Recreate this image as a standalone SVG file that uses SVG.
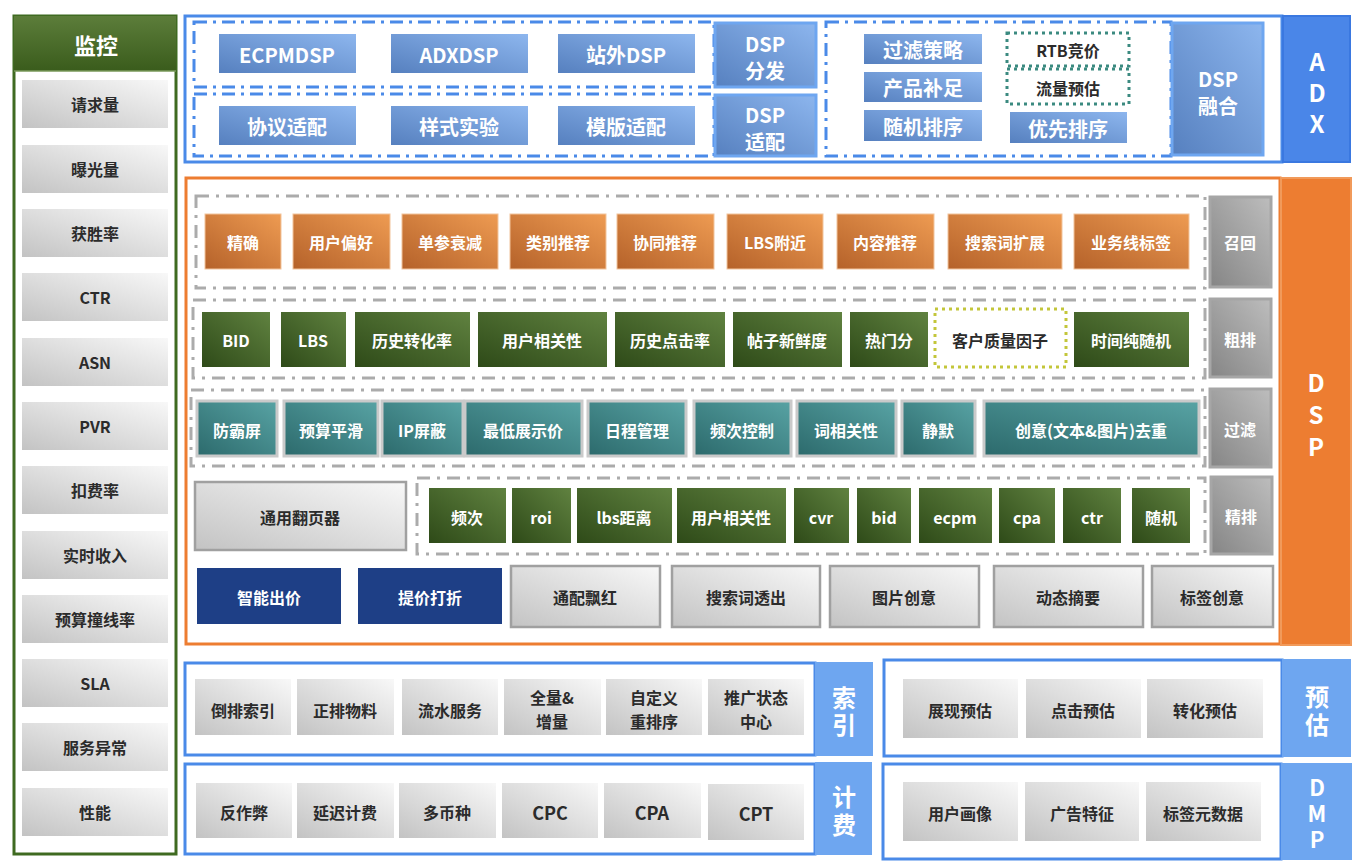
<svg xmlns="http://www.w3.org/2000/svg" width="1359" height="867" viewBox="0 0 1359 867">
<defs>
<linearGradient id="gAdx" x1="0" y1="1" x2="1" y2="0"><stop offset="0" stop-color="#5680bf"/><stop offset="1" stop-color="#8db6ee"/></linearGradient>
<linearGradient id="gOr" x1="0" y1="1" x2="1" y2="0"><stop offset="0" stop-color="#b5622a"/><stop offset="1" stop-color="#ee9b52"/></linearGradient>
<linearGradient id="gGr" x1="0" y1="1" x2="1" y2="0"><stop offset="0" stop-color="#2e4a18"/><stop offset="1" stop-color="#608240"/></linearGradient>
<linearGradient id="gTe" x1="0" y1="1" x2="1" y2="0"><stop offset="0" stop-color="#2c6a6c"/><stop offset="1" stop-color="#58a3a4"/></linearGradient>
<linearGradient id="gGy" x1="0" y1="1" x2="1" y2="0"><stop offset="0" stop-color="#858585"/><stop offset="1" stop-color="#bdbdbd"/></linearGradient>
<linearGradient id="gLt" x1="0" y1="1" x2="1" y2="0"><stop offset="0" stop-color="#c3c3c3"/><stop offset="1" stop-color="#f8f8f8"/></linearGradient>
<linearGradient id="gHd" x1="0" y1="0" x2="0" y2="1"><stop offset="0" stop-color="#5c7d3a"/><stop offset="1" stop-color="#3a5c1c"/></linearGradient>
</defs>
<style>
text{font-family:"Noto Sans CJK SC","Noto Sans",sans-serif;font-weight:bold;text-anchor:middle;dominant-baseline:central}
.w{fill:#fff}
.d{fill:#2b2b2b}
.f16{font-size:16px}
.f20{font-size:20px}
.f24{font-size:24px}
.vt{writing-mode:vertical-rl;text-orientation:upright}
.adx{fill:url(#gAdx)}
.adxb{fill:url(#gAdx);stroke:#6ea6f0;stroke-width:3}
.or{fill:url(#gOr);stroke:#f2c49c;stroke-width:1}
.gr{fill:url(#gGr)}
.te{fill:url(#gTe);stroke:#cacaca;stroke-width:3}
.gy{fill:url(#gGy);stroke:#a6a6a6;stroke-width:3}
.lt{fill:url(#gLt)}
.ltb{fill:url(#gLt);stroke:#a0a0a0;stroke-width:2.5}
.nv{fill:#1e3f86}
.dashB{fill:none;stroke:#4a8ae8;stroke-width:3;stroke-dasharray:13 6 3 6}
.dashG{fill:none;stroke:#ababab;stroke-width:3;stroke-dasharray:13 7 3 7}
.dot{fill:#fff;stroke:#3b8a80;stroke-width:3;stroke-dasharray:3 4}
.doty{fill:#fff;stroke:#c3c63a;stroke-width:3;stroke-dasharray:3 4}
.frameB{fill:#fff;stroke:#4a8ae8;stroke-width:3}
.lblB{fill:#6ea6f0}
</style>

<!-- Monitoring panel -->
<g id="monitor">
<rect x="14" y="16" width="162" height="838" fill="#fff" stroke="#3f6a21" stroke-width="3"/>
<rect x="14" y="16" width="162" height="55" fill="url(#gHd)"/>
<line x1="14" y1="71" x2="176" y2="71" stroke="#7a9a5a" stroke-width="1.5"/>
<text class="w" x="96" y="44" style="font-size:22px">监控</text>
</g>
<g id="m1"><rect class="lt" x="22" y="80" width="146" height="48"/><text class="d f16" x="95" y="104">请求量</text></g>
<g id="m2"><rect class="lt" x="22" y="145" width="146" height="48"/><text class="d f16" x="95" y="169">曝光量</text></g>
<g id="m3"><rect class="lt" x="22" y="209" width="146" height="48"/><text class="d f16" x="95" y="233">获胜率</text></g>
<g id="m4"><rect class="lt" x="22" y="273" width="146" height="48"/><text class="d f16" x="95" y="297">CTR</text></g>
<g id="m5"><rect class="lt" x="22" y="338" width="146" height="48"/><text class="d f16" x="95" y="362">ASN</text></g>
<g id="m6"><rect class="lt" x="22" y="402" width="146" height="48"/><text class="d f16" x="95" y="426">PVR</text></g>
<g id="m7"><rect class="lt" x="22" y="466" width="146" height="48"/><text class="d f16" x="95" y="490">扣费率</text></g>
<g id="m8"><rect class="lt" x="22" y="531" width="146" height="48"/><text class="d f16" x="95" y="555">实时收入</text></g>
<g id="m9"><rect class="lt" x="22" y="595" width="146" height="48"/><text class="d f16" x="95" y="619">预算撞线率</text></g>
<g id="m10"><rect class="lt" x="22" y="659" width="146" height="48"/><text class="d f16" x="95" y="683">SLA</text></g>
<g id="m11"><rect class="lt" x="22" y="723" width="146" height="48"/><text class="d f16" x="95" y="747">服务异常</text></g>
<g id="m12"><rect class="lt" x="22" y="788" width="146" height="48"/><text class="d f16" x="95" y="812">性能</text></g>

<!-- ADX -->
<g id="adx">
<rect class="frameB" x="185" y="16" width="1097" height="146"/>
<rect x="1283" y="16" width="67" height="146" fill="#4a86e8" stroke="#3a78e0" stroke-width="2"/>
<text class="w f24 vt" x="1317" y="96.5" style="letter-spacing:7px">ADX</text>
<rect class="dashB" x="194" y="22" width="520" height="65"/>
<rect class="dashB" x="194" y="94" width="520" height="62"/>
<rect class="dashB" x="826" y="22" width="345" height="134"/>
</g>
<g id="ecpmdsp"><rect class="adx" x="219" y="34" width="137" height="39"/><text class="w f20" x="287" y="54">ECPMDSP</text></g>
<g id="adxdsp"><rect class="adx" x="391" y="34" width="137" height="39"/><text class="w f20" x="459" y="54">ADXDSP</text></g>
<g id="zwdsp"><rect class="adx" x="558" y="34" width="137" height="39"/><text class="w f20" x="626" y="54">站外DSP</text></g>
<g id="xyspd"><rect class="adx" x="219" y="106" width="137" height="39"/><text class="w f20" x="287" y="126">协议适配</text></g>
<g id="yssy"><rect class="adx" x="391" y="106" width="137" height="39"/><text class="w f20" x="459" y="126">样式实验</text></g>
<g id="mbsp"><rect class="adx" x="558" y="106" width="137" height="39"/><text class="w f20" x="626" y="126">模版适配</text></g>
<g id="dspff"><rect class="adxb" x="715" y="23" width="101" height="64"/><text class="w f20"><tspan x="765" y="43">DSP</tspan><tspan x="765" y="70">分发</tspan></text></g>
<g id="dspsp"><rect class="adxb" x="715" y="95" width="101" height="61"/><text class="w f20"><tspan x="765" y="114">DSP</tspan><tspan x="765" y="141">适配</tspan></text></g>
<g id="glcl"><rect class="adx" x="864" y="34" width="118" height="30"/><text class="w f20" x="923" y="49">过滤策略</text></g>
<g id="cpbz"><rect class="adx" x="864" y="72" width="118" height="30"/><text class="w f20" x="923" y="87">产品补足</text></g>
<g id="sjpx"><rect class="adx" x="864" y="110" width="118" height="31"/><text class="w f20" x="923" y="126">随机排序</text></g>
<g id="rtb"><rect class="dot" x="1007" y="33" width="122" height="33"/><text class="d f16" x="1068" y="50">RTB竞价</text></g>
<g id="llyg"><rect class="dot" x="1007" y="69" width="122" height="35"/><text class="d f16" x="1068" y="88">流量预估</text></g>
<g id="yxpx"><rect class="adx" x="1010" y="112" width="117" height="31"/><text class="w f20" x="1068" y="128">优先排序</text></g>
<g id="dsprh"><rect class="adxb" x="1172" y="23" width="91" height="132"/><text class="w f20"><tspan x="1218" y="78">DSP</tspan><tspan x="1218" y="105">融合</tspan></text></g>

<!-- DSP -->
<g id="dsp">
<rect x="186" y="178" width="1094" height="466" fill="#fff" stroke="#ed7d31" stroke-width="3"/>
<rect x="1281" y="178" width="70" height="467" fill="#ed7d31" stroke="#f19a5a" stroke-width="2"/>
<text class="w f24 vt" x="1316" y="419" style="letter-spacing:8px">DSP</text>
<rect class="dashG" x="196" y="196" width="1009" height="92"/>
<rect class="dashG" x="193" y="300" width="1012" height="78"/>
<rect class="dashG" x="191" y="390" width="1014" height="76"/>
<rect class="dashG" x="417" y="478" width="788" height="76"/>
</g>
<g id="zh"><rect class="gy" x="1210" y="197" width="61" height="90"/><text class="w f16" x="1240" y="242">召回</text></g>
<g id="cp"><rect class="gy" x="1210" y="299" width="61" height="78"/><text class="w f16" x="1240" y="339">粗排</text></g>
<g id="gl"><rect class="gy" x="1210" y="389" width="61" height="78"/><text class="w f16" x="1240" y="429">过滤</text></g>
<g id="jp"><rect class="gy" x="1211" y="477" width="61" height="77"/><text class="w f16" x="1241" y="516">精排</text></g>

<g id="r1a"><rect class="or" x="205" y="214" width="76" height="55"/><text class="w f16" x="243" y="242">精确</text></g>
<g id="r1b"><rect class="or" x="293" y="214" width="97" height="55"/><text class="w f16" x="341" y="242">用户偏好</text></g>
<g id="r1c"><rect class="or" x="402" y="214" width="96" height="55"/><text class="w f16" x="450" y="242">单参衰减</text></g>
<g id="r1d"><rect class="or" x="510" y="214" width="96" height="55"/><text class="w f16" x="558" y="242">类别推荐</text></g>
<g id="r1e"><rect class="or" x="617" y="214" width="97" height="55"/><text class="w f16" x="665" y="242">协同推荐</text></g>
<g id="r1f"><rect class="or" x="727" y="214" width="96" height="55"/><text class="w f16" x="775" y="242">LBS附近</text></g>
<g id="r1g"><rect class="or" x="837" y="214" width="97" height="55"/><text class="w f16" x="885" y="242">内容推荐</text></g>
<g id="r1h"><rect class="or" x="948" y="214" width="114" height="55"/><text class="w f16" x="1005" y="242">搜索词扩展</text></g>
<g id="r1i"><rect class="or" x="1074" y="214" width="115" height="55"/><text class="w f16" x="1131" y="242">业务线标签</text></g>

<g id="r2a"><rect class="gr" x="202" y="312" width="68" height="55"/><text class="w f16" x="236" y="340">BID</text></g>
<g id="r2b"><rect class="gr" x="281" y="312" width="65" height="55"/><text class="w f16" x="313" y="340">LBS</text></g>
<g id="r2c"><rect class="gr" x="355" y="312" width="115" height="55"/><text class="w f16" x="412" y="340">历史转化率</text></g>
<g id="r2d"><rect class="gr" x="478" y="312" width="129" height="55"/><text class="w f16" x="542" y="340">用户相关性</text></g>
<g id="r2e"><rect class="gr" x="615" y="312" width="110" height="55"/><text class="w f16" x="670" y="340">历史点击率</text></g>
<g id="r2f"><rect class="gr" x="733" y="312" width="109" height="55"/><text class="w f16" x="787" y="340">帖子新鲜度</text></g>
<g id="r2g"><rect class="gr" x="850" y="312" width="78" height="55"/><text class="w f16" x="889" y="340">热门分</text></g>
<g id="r2h"><rect class="doty" x="935" y="309" width="131" height="58"/><text class="d f16" x="1000" y="340">客户质量因子</text></g>
<g id="r2i"><rect class="gr" x="1074" y="312" width="115" height="55"/><text class="w f16" x="1131" y="340">时间纯随机</text></g>

<g id="r3a"><rect class="te" x="197" y="401" width="80" height="55"/><text class="w f16" x="237" y="430">防霸屏</text></g>
<g id="r3b"><rect class="te" x="284" y="401" width="94" height="55"/><text class="w f16" x="331" y="430">预算平滑</text></g>
<g id="r3c"><rect class="te" x="382" y="401" width="81" height="55"/><text class="w f16" x="422" y="430">IP屏蔽</text></g>
<g id="r3d"><rect class="te" x="465" y="401" width="117" height="55"/><text class="w f16" x="523" y="430">最低展示价</text></g>
<g id="r3e"><rect class="te" x="588" y="401" width="98" height="55"/><text class="w f16" x="637" y="430">日程管理</text></g>
<g id="r3f"><rect class="te" x="694" y="401" width="97" height="55"/><text class="w f16" x="742" y="430">频次控制</text></g>
<g id="r3g"><rect class="te" x="797" y="401" width="99" height="55"/><text class="w f16" x="846" y="430">词相关性</text></g>
<g id="r3h"><rect class="te" x="902" y="401" width="73" height="55"/><text class="w f16" x="938" y="430">静默</text></g>
<g id="r3i"><rect class="te" x="984" y="401" width="215" height="55"/><text class="w f16" x="1091" y="430">创意(文本&amp;图片)去重</text></g>

<g id="fyq"><rect class="ltb" x="195" y="482" width="211" height="68"/><text class="d f16" x="300" y="517">通用翻页器</text></g>
<g id="r4a"><rect class="gr" x="429" y="488" width="77" height="55"/><text class="w f16" x="467" y="517">频次</text></g>
<g id="r4b"><rect class="gr" x="512" y="488" width="59" height="55"/><text class="w f16" x="541" y="517">roi</text></g>
<g id="r4c"><rect class="gr" x="577" y="488" width="95" height="55"/><text class="w f16" x="624" y="517">lbs距离</text></g>
<g id="r4d"><rect class="gr" x="677" y="488" width="109" height="55"/><text class="w f16" x="731" y="517">用户相关性</text></g>
<g id="r4e"><rect class="gr" x="794" y="488" width="55" height="55"/><text class="w f16" x="821" y="517">cvr</text></g>
<g id="r4f"><rect class="gr" x="857" y="488" width="54" height="55"/><text class="w f16" x="884" y="517">bid</text></g>
<g id="r4g"><rect class="gr" x="919" y="488" width="73" height="55"/><text class="w f16" x="955" y="517">ecpm</text></g>
<g id="r4h"><rect class="gr" x="999" y="488" width="56" height="55"/><text class="w f16" x="1027" y="517">cpa</text></g>
<g id="r4i"><rect class="gr" x="1063" y="488" width="58" height="55"/><text class="w f16" x="1092" y="517">ctr</text></g>
<g id="r4j"><rect class="gr" x="1132" y="488" width="58" height="55"/><text class="w f16" x="1161" y="517">随机</text></g>

<g id="r5a"><rect class="nv" x="197" y="568" width="144" height="56"/><text class="w f16" x="269" y="597">智能出价</text></g>
<g id="r5b"><rect class="nv" x="358" y="568" width="144" height="56"/><text class="w f16" x="430" y="597">提价打折</text></g>
<g id="r5c"><rect class="ltb" x="511" y="566" width="149" height="61"/><text class="d f16" x="585" y="597">通配飘红</text></g>
<g id="r5d"><rect class="ltb" x="672" y="566" width="148" height="61"/><text class="d f16" x="746" y="597">搜索词透出</text></g>
<g id="r5e"><rect class="ltb" x="830" y="566" width="149" height="61"/><text class="d f16" x="904" y="597">图片创意</text></g>
<g id="r5f"><rect class="ltb" x="994" y="566" width="149" height="61"/><text class="d f16" x="1068" y="597">动态摘要</text></g>
<g id="r5g"><rect class="ltb" x="1152" y="566" width="121" height="61"/><text class="d f16" x="1212" y="597">标签创意</text></g>

<!-- 索引 -->
<g id="suoyin">
<rect class="frameB" x="185" y="663" width="630" height="92"/>
<rect class="lblB" x="815" y="662" width="58" height="94"/>
<text class="w f24 vt" x="844" y="713" style="letter-spacing:3px">索引</text>
</g>
<g id="sy1"><rect class="lt" x="195" y="679" width="96" height="56"/><text class="d f16" x="243" y="710">倒排索引</text></g>
<g id="sy2"><rect class="lt" x="297" y="679" width="97" height="56"/><text class="d f16" x="345" y="710">正排物料</text></g>
<g id="sy3"><rect class="lt" x="402" y="679" width="96" height="56"/><text class="d f16" x="450" y="710">流水服务</text></g>
<g id="sy4"><rect class="lt" x="504" y="679" width="97" height="56"/><text class="d f16"><tspan x="552" y="697">全量&amp;</tspan><tspan x="552" y="721">增量</tspan></text></g>
<g id="sy5"><rect class="lt" x="606" y="679" width="96" height="56"/><text class="d f16"><tspan x="654" y="697">自定义</tspan><tspan x="654" y="721">重排序</tspan></text></g>
<g id="sy6"><rect class="lt" x="708" y="679" width="96" height="56"/><text class="d f16"><tspan x="756" y="697">推广状态</tspan><tspan x="756" y="721">中心</tspan></text></g>

<!-- 计费 -->
<g id="jifei">
<rect class="frameB" x="185" y="764" width="630" height="90"/>
<rect class="lblB" x="815" y="762" width="57" height="93"/>
<text class="w f24 vt" x="844" y="813" style="letter-spacing:4px">计费</text>
</g>
<g id="jf1"><rect class="lt" x="196" y="783" width="96" height="55"/><text class="d f16" x="244" y="812">反作弊</text></g>
<g id="jf2"><rect class="lt" x="297" y="783" width="97" height="55"/><text class="d f16" x="345" y="812">延迟计费</text></g>
<g id="jf3"><rect class="lt" x="399" y="783" width="97" height="55"/><text class="d f16" x="447" y="812">多币种</text></g>
<g id="jf4"><rect class="lt" x="502" y="783" width="96" height="55"/><text class="d" x="550" y="812" style="font-size:18px">CPC</text></g>
<g id="jf5"><rect class="lt" x="604" y="783" width="97" height="55"/><text class="d" x="652" y="812" style="font-size:18px">CPA</text></g>
<g id="jf6"><rect class="lt" x="708" y="784" width="96" height="56"/><text class="d" x="756" y="813" style="font-size:18px">CPT</text></g>

<!-- 预估 -->
<g id="yugu">
<rect class="frameB" x="884" y="660" width="398" height="96"/>
<rect class="lblB" x="1282" y="659" width="69" height="98"/>
<text class="w f24 vt" x="1317" y="713" style="letter-spacing:4px">预估</text>
</g>
<g id="yg1"><rect class="lt" x="903" y="679" width="115" height="59"/><text class="d f16" x="960" y="710">展现预估</text></g>
<g id="yg2"><rect class="lt" x="1026" y="679" width="115" height="59"/><text class="d f16" x="1083" y="710">点击预估</text></g>
<g id="yg3"><rect class="lt" x="1147" y="679" width="116" height="59"/><text class="d f16" x="1205" y="710">转化预估</text></g>

<!-- DMP -->
<g id="dmp">
<rect class="frameB" x="883" y="764" width="398" height="95"/>
<rect class="lblB" x="1281" y="763" width="71" height="97"/>
<text class="w vt" x="1317" y="816" style="font-size:22px;letter-spacing:4px">DMP</text>
</g>
<g id="dm1"><rect class="lt" x="903" y="782" width="115" height="59"/><text class="d f16" x="960" y="813">用户画像</text></g>
<g id="dm2"><rect class="lt" x="1025" y="782" width="114" height="59"/><text class="d f16" x="1082" y="813">广告特征</text></g>
<g id="dm3"><rect class="lt" x="1146" y="782" width="115" height="59"/><text class="d f16" x="1203" y="813">标签元数据</text></g>

<g id="connectors"></g>
</svg>
